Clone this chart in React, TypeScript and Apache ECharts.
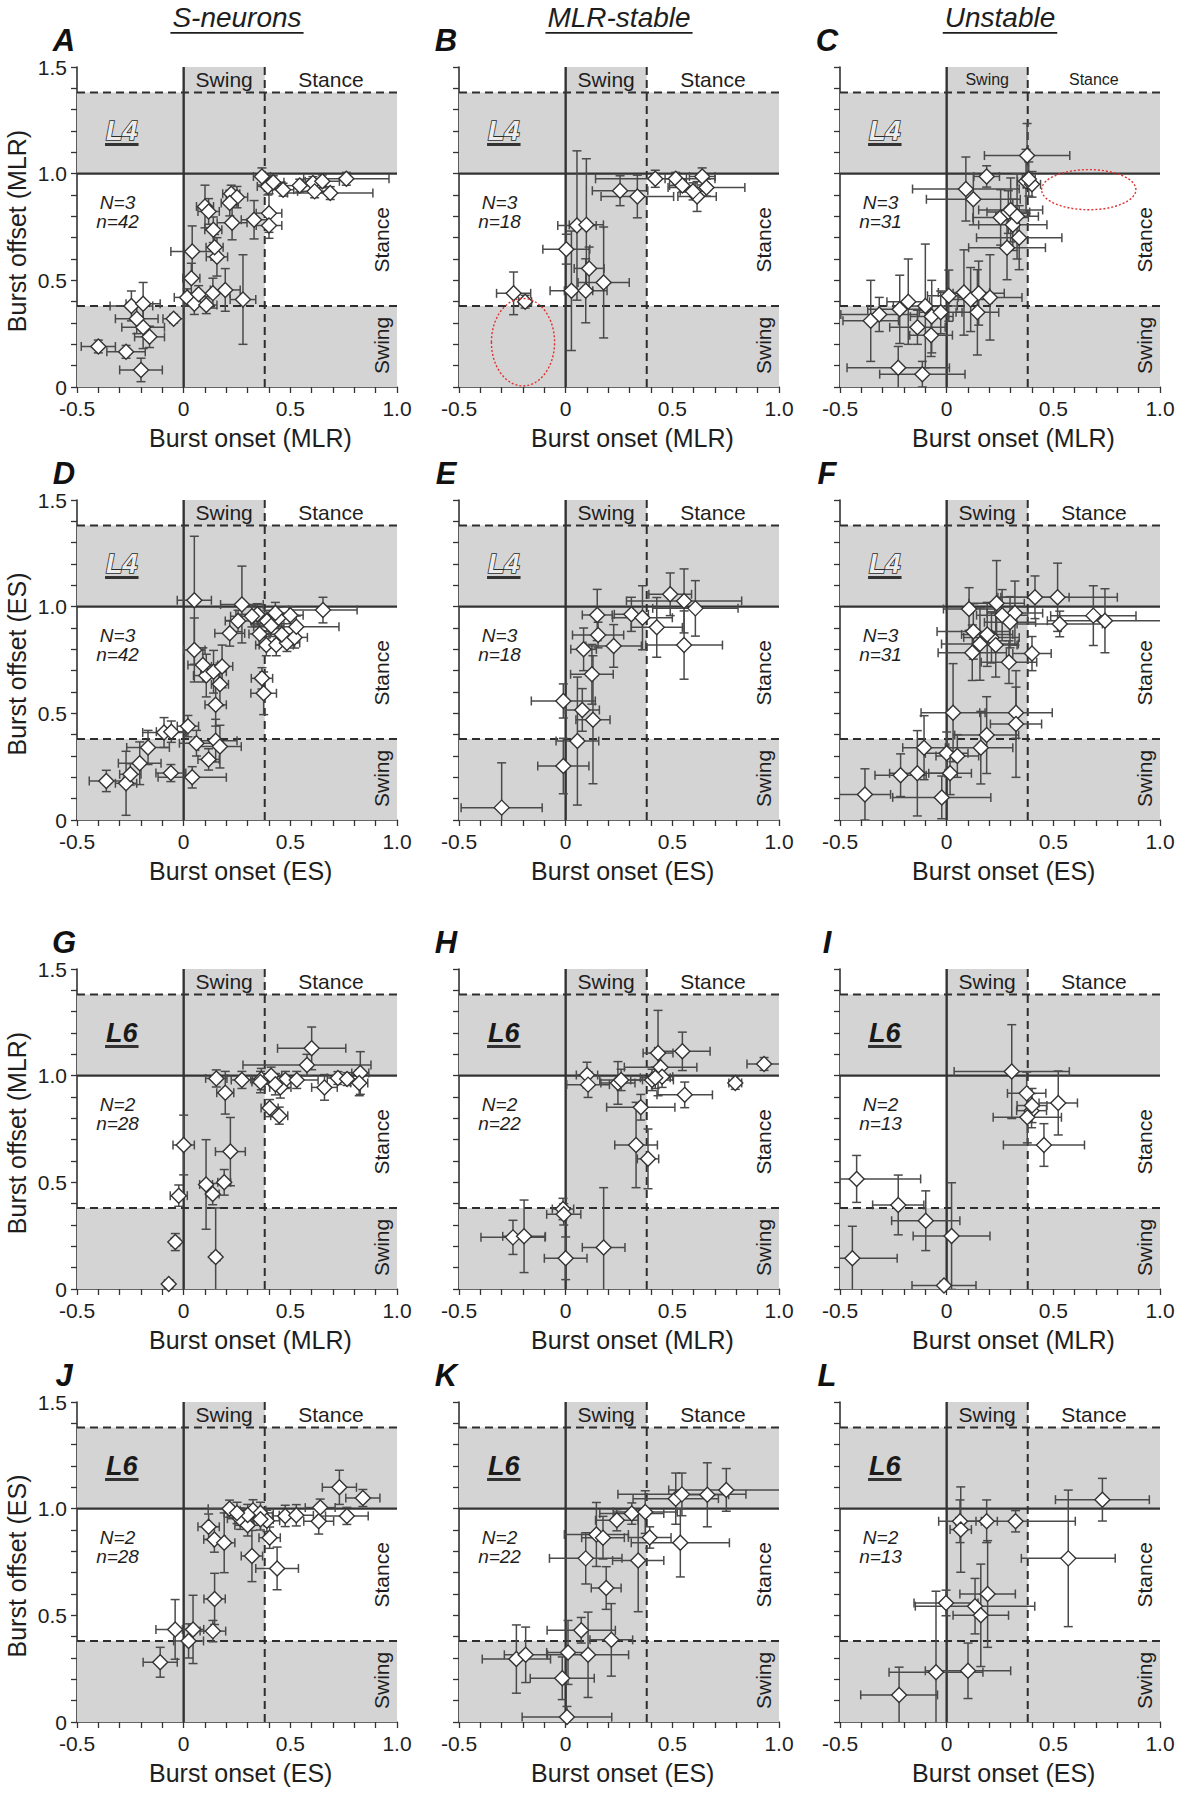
import React, { useEffect, useRef } from 'react';
import * as echarts from 'echarts';

type Pt = [number, number, number, number]; // onset, offset, onset SD, offset SD

const FONT = "'Liberation Sans', Arial, Helvetica, sans-serif";
const INK = '#1e1e1e';
const LINE = '#2e2e2e';
const BAR = '#4a4a4a';
const GRAY = '#d4d4d4';

const X_MIN = -0.5;
const X_MAX = 1.0;
const Y_MIN = 0;
const Y_MAX = 1.5;
const SWING_END = 0.38;
const L_TOP = 1.38;

const columnTitles = ['S-neurons', 'MLR-stable', 'Unstable'];
const panelLetters = ['A', 'B', 'C', 'D', 'E', 'F', 'G', 'H', 'I', 'J', 'K', 'L'];
const segmentLabels = ['L4', 'L4', 'L4', 'L4', 'L4', 'L4', 'L6', 'L6', 'L6', 'L6', 'L6', 'L6'];
const rowReferences = ['MLR', 'ES', 'MLR', 'ES'];
const animalCounts = [3, 3, 3, 3, 3, 3, 2, 2, 2, 2, 2, 2];
const neuronCounts = [42, 18, 31, 42, 18, 31, 28, 22, 13, 28, 22, 13];

const ptsA: Pt[] = [
  [-0.40, 0.19, 0.08, 0.03], [-0.27, 0.165, 0.09, 0.03], [-0.20, 0.08, 0.10, 0.055],
  [-0.16, 0.235, 0.07, 0.05], [-0.19, 0.28, 0.10, 0.10], [-0.22, 0.32, 0.10, 0.07],
  [-0.245, 0.38, 0.10, 0.07], [-0.19, 0.39, 0.08, 0.10], [-0.047, 0.32, 0.05, 0.02],
  [0.016, 0.42, 0.06, 0.04], [0.05, 0.39, 0.05, 0.05], [0.07, 0.435, 0.05, 0.04],
  [0.106, 0.384, 0.05, 0.04], [0.137, 0.44, 0.08, 0.07], [0.195, 0.455, 0.07, 0.10],
  [0.278, 0.41, 0.06, 0.21], [0.036, 0.51, 0.04, 0.07], [0.04, 0.635, 0.10, 0.12],
  [0.156, 0.61, 0.05, 0.09], [0.145, 0.655, 0.04, 0.06], [0.139, 0.737, 0.04, 0.06],
  [0.10, 0.846, 0.04, 0.10], [0.117, 0.823, 0.05, 0.06], [0.227, 0.77, 0.07, 0.08],
  [0.223, 0.906, 0.04, 0.04], [0.25, 0.89, 0.05, 0.05], [0.216, 0.862, 0.04, 0.06],
  [0.33, 0.784, 0.06, 0.09], [0.40, 0.815, 0.06, 0.09], [0.40, 0.757, 0.06, 0.06],
  [0.367, 0.987, 0.04, 0.04], [0.395, 0.94, 0.05, 0.04], [0.466, 0.925, 0.05, 0.03],
  [0.544, 0.944, 0.07, 0.03], [0.606, 0.956, 0.06, 0.03], [0.614, 0.917, 0.08, 0.03],
  [0.65, 0.964, 0.08, 0.03], [0.687, 0.909, 0.20, 0.03], [0.7625, 0.976, 0.20, 0.03],
  [0.42, 0.96, 0.05, 0.03],
];
const ptsB: Pt[] = [
  [-0.244, 0.439, 0.08, 0.10], [-0.19, 0.40, 0.03, 0.03], [0.003, 0.646, 0.11, 0.07],
  [0.053, 0.757, 0.09, 0.35], [0.097, 0.76, 0.08, 0.31], [0.11, 0.556, 0.07, 0.10],
  [0.027, 0.451, 0.10, 0.28], [0.094, 0.451, 0.10, 0.15], [0.178, 0.49, 0.12, 0.26],
  [0.255, 0.92, 0.13, 0.07], [0.336, 0.893, 0.17, 0.10], [0.42, 0.976, 0.28, 0.04],
  [0.516, 0.976, 0.05, 0.03], [0.547, 0.944, 0.06, 0.03], [0.64, 0.987, 0.06, 0.04],
  [0.66, 0.935, 0.18, 0.04], [0.616, 0.893, 0.09, 0.07], [0.597, 0.917, 0.06, 0.04],
];
const ptsC: Pt[] = [
  [-0.356, 0.31, 0.13, 0.19], [-0.316, 0.34, 0.18, 0.08], [-0.22, 0.364, 0.15, 0.16],
  [-0.18, 0.40, 0.10, 0.20], [-0.10, 0.38, 0.15, 0.29], [-0.137, 0.28, 0.13, 0.08],
  [-0.07, 0.33, 0.10, 0.17], [-0.073, 0.243, 0.10, 0.10], [-0.028, 0.35, 0.10, 0.10],
  [0.01, 0.428, 0.10, 0.12], [0.081, 0.443, 0.12, 0.20], [0.1125, 0.41, 0.10, 0.15],
  [0.144, 0.35, 0.10, 0.20], [0.203, 0.42, 0.15, 0.20], [-0.227, 0.09, 0.24, 0.10],
  [-0.114, 0.06, 0.20, 0.06], [0.09, 0.928, 0.25, 0.15], [0.125, 0.88, 0.22, 0.12],
  [0.1875, 0.987, 0.06, 0.05], [0.253, 0.795, 0.13, 0.13], [0.289, 0.82, 0.10, 0.10],
  [0.31, 0.76, 0.16, 0.12], [0.34, 0.70, 0.20, 0.15], [0.283, 0.653, 0.18, 0.15],
  [0.377, 1.085, 0.20, 0.15], [0.372, 0.964, 0.04, 0.15], [0.40, 0.95, 0.04, 0.06],
  [0.385, 0.975, 0.03, 0.08], [0.30, 0.83, 0.15, 0.15], [0.33, 0.80, 0.10, 0.20],
  [0.15, 0.44, 0.12, 0.15],
];
const ptsD: Pt[] = [
  [-0.3625, 0.183, 0.08, 0.05], [-0.27, 0.172, 0.05, 0.15], [-0.25, 0.214, 0.05, 0.05],
  [-0.206, 0.266, 0.10, 0.10], [-0.167, 0.34, 0.10, 0.08], [-0.092, 0.41, 0.10, 0.07],
  [-0.058, 0.414, 0.07, 0.05], [-0.06, 0.22, 0.07, 0.04], [0.04, 0.20, 0.16, 0.05],
  [0.02, 0.44, 0.05, 0.05], [0.06, 0.36, 0.08, 0.06], [0.117, 0.284, 0.05, 0.05],
  [0.15, 0.372, 0.10, 0.10], [0.17, 0.344, 0.10, 0.10], [0.15, 0.54, 0.05, 0.10],
  [0.17, 0.636, 0.04, 0.10], [0.106, 0.677, 0.06, 0.10], [0.09, 0.727, 0.07, 0.08],
  [0.14, 0.695, 0.06, 0.10], [0.18, 0.72, 0.05, 0.10], [0.05, 0.797, 0.05, 0.15],
  [0.05, 1.03, 0.08, 0.30], [0.216, 0.875, 0.07, 0.06], [0.255, 0.933, 0.06, 0.05],
  [0.273, 1.01, 0.10, 0.18], [0.345, 0.964, 0.10, 0.05], [0.356, 0.872, 0.05, 0.05],
  [0.39, 0.933, 0.06, 0.05], [0.3875, 0.82, 0.05, 0.05], [0.434, 0.82, 0.08, 0.05],
  [0.445, 0.947, 0.05, 0.05], [0.484, 0.83, 0.06, 0.04], [0.52, 0.856, 0.06, 0.05],
  [0.528, 0.906, 0.20, 0.05], [0.367, 0.664, 0.05, 0.05], [0.375, 0.594, 0.06, 0.10],
  [0.653, 0.984, 0.16, 0.06], [0.32, 0.955, 0.10, 0.05], [0.41, 0.91, 0.06, 0.05],
  [0.46, 0.87, 0.06, 0.05], [0.43, 0.97, 0.07, 0.05], [0.50, 0.96, 0.06, 0.04],
];
const ptsE: Pt[] = [
  [-0.30, 0.058, 0.19, 0.21], [-0.011, 0.253, 0.12, 0.13], [0.055, 0.37, 0.10, 0.30],
  [-0.011, 0.558, 0.15, 0.08], [0.078, 0.516, 0.08, 0.10], [0.128, 0.47, 0.08, 0.30],
  [0.123, 0.683, 0.10, 0.14], [0.084, 0.80, 0.06, 0.10], [0.152, 0.867, 0.12, 0.06],
  [0.225, 0.816, 0.13, 0.10], [0.148, 0.961, 0.07, 0.12], [0.308, 0.964, 0.08, 0.08],
  [0.36, 0.948, 0.14, 0.15], [0.427, 0.903, 0.12, 0.14], [0.49, 1.058, 0.10, 0.10],
  [0.555, 1.027, 0.27, 0.15], [0.608, 0.992, 0.20, 0.13], [0.555, 0.82, 0.18, 0.16],
];
const ptsF: Pt[] = [
  [-0.383, 0.12, 0.12, 0.12], [-0.216, 0.21, 0.12, 0.10], [-0.1375, 0.219, 0.13, 0.20],
  [-0.106, 0.339, 0.10, 0.15], [0.0, 0.3125, 0.10, 0.10], [0.016, 0.219, 0.10, 0.10],
  [-0.023, 0.106, 0.23, 0.10], [0.03, 0.503, 0.15, 0.23], [0.16, 0.339, 0.15, 0.17],
  [0.1875, 0.398, 0.15, 0.18], [0.325, 0.503, 0.17, 0.12], [0.325, 0.45, 0.12, 0.25],
  [0.105, 0.989, 0.12, 0.10], [0.125, 0.884, 0.17, 0.13], [0.156, 0.825, 0.18, 0.17],
  [0.12, 0.784, 0.16, 0.13], [0.21, 0.856, 0.13, 0.12], [0.234, 1.016, 0.13, 0.20],
  [0.32, 0.97, 0.13, 0.15], [0.297, 0.927, 0.12, 0.12], [0.292, 0.74, 0.13, 0.10],
  [0.40, 0.78, 0.09, 0.08], [0.414, 1.044, 0.16, 0.10], [0.52, 1.044, 0.28, 0.16],
  [0.53, 0.919, 0.20, 0.06], [0.6875, 0.958, 0.20, 0.14], [0.742, 0.934, 0.27, 0.15],
  [0.19, 0.87, 0.12, 0.15], [0.26, 0.96, 0.12, 0.12], [0.23, 0.82, 0.10, 0.15],
  [0.05, 0.30, 0.10, 0.10],
];
const ptsG: Pt[] = [
  [-0.07, 0.023, 0.02, 0.02], [-0.039, 0.22, 0.02, 0.04], [-0.023, 0.4375, 0.04, 0.05],
  [0.0, 0.675, 0.05, 0.14], [0.105, 0.49, 0.03, 0.21], [0.136, 0.445, 0.03, 0.05],
  [0.15, 0.15, 0.02, 0.23], [0.19, 0.50, 0.03, 0.06], [0.219, 0.644, 0.07, 0.16],
  [0.195, 0.92, 0.04, 0.10], [0.153, 0.987, 0.05, 0.04], [0.273, 0.98, 0.05, 0.04],
  [0.364, 0.984, 0.05, 0.05], [0.41, 1.0, 0.05, 0.04], [0.477, 0.98, 0.05, 0.04],
  [0.453, 0.945, 0.05, 0.05], [0.403, 0.848, 0.04, 0.04], [0.448, 0.8125, 0.04, 0.04],
  [0.60, 1.128, 0.16, 0.10], [0.578, 1.05, 0.30, 0.05], [0.66, 0.945, 0.06, 0.06],
  [0.723, 0.989, 0.05, 0.03], [0.766, 0.984, 0.05, 0.03], [0.828, 1.0125, 0.04, 0.10],
  [0.823, 0.966, 0.04, 0.06], [0.36, 0.97, 0.04, 0.05], [0.43, 0.96, 0.05, 0.05],
  [0.53, 0.98, 0.10, 0.04],
];
const ptsH: Pt[] = [
  [-0.247, 0.242, 0.15, 0.08], [-0.195, 0.247, 0.10, 0.17], [-0.0125, 0.375, 0.05, 0.05],
  [-0.009, 0.35, 0.08, 0.05], [0.0, 0.144, 0.10, 0.10], [0.178, 0.195, 0.10, 0.28],
  [0.10, 1.003, 0.05, 0.06], [0.105, 0.958, 0.10, 0.06], [0.245, 0.966, 0.08, 0.10],
  [0.352, 0.852, 0.16, 0.06], [0.33, 0.675, 0.10, 0.20], [0.386, 0.61, 0.05, 0.14],
  [0.433, 1.106, 0.07, 0.20], [0.445, 1.04, 0.17, 0.06], [0.405, 0.98, 0.10, 0.05],
  [0.452, 0.995, 0.05, 0.05], [0.547, 1.114, 0.13, 0.09], [0.558, 0.91, 0.13, 0.06],
  [0.795, 0.966, 0.03, 0.03], [0.93, 1.055, 0.08, 0.03], [0.26, 0.98, 0.10, 0.05],
  [0.42, 0.99, 0.07, 0.05],
];
const ptsI: Pt[] = [
  [-0.422, 0.516, 0.30, 0.11], [-0.227, 0.394, 0.12, 0.14], [-0.098, 0.32, 0.16, 0.14],
  [0.023, 0.248, 0.18, 0.25], [-0.442, 0.144, 0.21, 0.15], [-0.0125, 0.016, 0.15, 0.02],
  [0.305, 1.019, 0.27, 0.22], [0.375, 0.917, 0.09, 0.10], [0.398, 0.836, 0.07, 0.08],
  [0.378, 0.805, 0.16, 0.12], [0.523, 0.872, 0.09, 0.15], [0.456, 0.675, 0.19, 0.10],
  [0.40, 0.86, 0.07, 0.08],
];
const ptsJ: Pt[] = [
  [-0.11, 0.28, 0.08, 0.07], [-0.04, 0.434, 0.09, 0.14], [0.023, 0.38, 0.07, 0.08],
  [0.044, 0.434, 0.05, 0.16], [0.137, 0.426, 0.06, 0.05], [0.145, 0.577, 0.05, 0.12],
  [0.117, 0.915, 0.05, 0.06], [0.144, 0.856, 0.05, 0.06], [0.19, 0.84, 0.05, 0.14],
  [0.215, 1.0, 0.10, 0.04], [0.265, 0.953, 0.06, 0.05], [0.30, 0.922, 0.06, 0.05],
  [0.325, 0.992, 0.06, 0.05], [0.36, 0.98, 0.06, 0.05], [0.39, 0.943, 0.06, 0.05],
  [0.403, 0.864, 0.05, 0.05], [0.32, 0.778, 0.05, 0.12], [0.438, 0.72, 0.10, 0.10],
  [0.476, 0.966, 0.06, 0.05], [0.528, 0.969, 0.08, 0.05], [0.633, 0.941, 0.07, 0.06],
  [0.64, 1.005, 0.07, 0.04], [0.765, 0.966, 0.10, 0.04], [0.73, 1.10, 0.08, 0.08],
  [0.84, 1.05, 0.08, 0.04], [0.30, 0.97, 0.06, 0.05], [0.36, 0.95, 0.06, 0.05],
  [0.25, 0.98, 0.06, 0.05],
];
const ptsK: Pt[] = [
  [-0.231, 0.295, 0.16, 0.16], [-0.1875, 0.315, 0.10, 0.13], [-0.016, 0.205, 0.15, 0.10],
  [0.011, 0.326, 0.10, 0.15], [0.006, 0.023, 0.21, 0.05], [0.073, 0.43, 0.16, 0.06],
  [0.105, 0.315, 0.19, 0.20], [0.214, 0.385, 0.10, 0.17], [0.094, 0.767, 0.17, 0.12],
  [0.144, 0.879, 0.15, 0.15], [0.175, 0.864, 0.10, 0.10], [0.19, 0.628, 0.07, 0.10],
  [0.24, 0.946, 0.10, 0.05], [0.31, 0.977, 0.15, 0.05], [0.373, 0.984, 0.15, 0.10],
  [0.34, 0.757, 0.12, 0.24], [0.394, 0.865, 0.10, 0.05], [0.516, 1.047, 0.20, 0.12],
  [0.545, 1.067, 0.30, 0.10], [0.664, 1.065, 0.10, 0.15], [0.753, 1.088, 0.27, 0.10],
  [0.5375, 0.84, 0.23, 0.16],
];
const ptsL: Pt[] = [
  [-0.223, 0.127, 0.18, 0.13], [-0.05, 0.233, 0.22, 0.38], [0.10, 0.24, 0.20, 0.13],
  [-0.003, 0.558, 0.15, 0.06], [0.133, 0.543, 0.28, 0.13], [0.16, 0.50, 0.13, 0.24],
  [0.192, 0.60, 0.13, 0.25], [0.0625, 0.941, 0.10, 0.10], [0.066, 0.902, 0.05, 0.20],
  [0.1875, 0.941, 0.05, 0.10], [0.323, 0.941, 0.28, 0.05], [0.57, 0.767, 0.22, 0.32],
  [0.73, 1.042, 0.22, 0.10],
];

// highlighted regions (center x, center y, radius x, radius y) in data units
const ellipsesB = [[-0.2, 0.21, 0.148, 0.205]];
const ellipsesC = [[0.666, 0.925, 0.221, 0.094]];

const panelPoints: Pt[][] = [ptsA, ptsB, ptsC, ptsD, ptsE, ptsF, ptsG, ptsH, ptsI, ptsJ, ptsK, ptsL];
const panelEllipses: number[][][] = [[], ellipsesB, ellipsesC, [], [], [], [], [], [], [], [], []];

const LEFTS = [77, 459, 840];
const TOPS = [67, 500, 969, 1402];
const SIZE = 320;

const tickFmt = (v: number) => (Math.abs(v) < 1e-9 ? '0' : v.toFixed(1));

function measure(text: string, font: string): number {
  const c = document.createElement('canvas').getContext('2d');
  if (!c) return text.length * 12;
  c.font = font;
  return c.measureText(text).width;
}

export default function App() {
  const ref = useRef<HTMLDivElement>(null);

  useEffect(() => {
    if (!ref.current) return;
    const chart = echarts.init(ref.current, undefined, { renderer: 'svg' });

    const grid: any[] = [];
    const xAxis: any[] = [];
    const yAxis: any[] = [];
    const series: any[] = [];
    const graphic: any[] = [];

    const titleFont = `italic 28px ${FONT}`;
    columnTitles.forEach((t, c) => {
      const cx = LEFTS[c] + SIZE / 2;
      const w = measure(t, titleFont);
      graphic.push({
        type: 'text', x: cx, y: 17,
        style: { text: t, font: titleFont, fill: INK, align: 'center', verticalAlign: 'middle' },
      });
      graphic.push({
        type: 'rect', shape: { x: cx - w / 2 - 2, y: 32, width: w + 4, height: 1.8 },
        style: { fill: INK },
      });
    });

    for (let i = 0; i < 12; i++) {
      const row = Math.floor(i / 3);
      const col = i % 3;
      const left = LEFTS[col];
      const top = TOPS[row];
      const ref_ = rowReferences[row];
      grid.push({ left, top, width: SIZE, height: SIZE });

      const axisCommon = {
        gridIndex: i,
        type: 'value',
        interval: 0.5,
        axisLine: { show: true, onZero: false, lineStyle: { color: '#333', width: 1.6 } },
        axisTick: { show: true, length: 6, lineStyle: { color: '#333', width: 1.3 } },
        minorTick: { show: true, splitNumber: 5, length: 6, lineStyle: { color: '#333', width: 1.3 } },
        splitLine: { show: false },
        minorSplitLine: { show: false },
      };
      xAxis.push({
        ...axisCommon,
        min: X_MIN, max: X_MAX, position: 'bottom',
        axisLabel: { formatter: tickFmt, fontSize: 21, fontFamily: FONT, color: INK, margin: 11 },
      });
      yAxis.push({
        ...axisCommon,
        min: Y_MIN, max: Y_MAX, position: 'left',
        axisLabel: { show: col === 0, formatter: tickFmt, fontSize: 21, fontFamily: FONT, color: INK, margin: 10 },
      });

      // panel letter
      graphic.push({
        type: 'text', x: left - 13, y: top - 27,
        style: { text: panelLetters[i], font: `italic bold 31px ${FONT}`, fill: '#111', align: 'center', verticalAlign: 'middle' },
      });
      // axis names
      graphic.push({
        type: 'text', x: left + 72, y: top + SIZE + 51,
        style: { text: `Burst onset (${ref_})`, font: `25px ${FONT}`, fill: INK, align: 'left', verticalAlign: 'middle' },
      });
      if (col === 0) {
        graphic.push({
          type: 'text', x: 17, y: top + SIZE / 2 + 4, rotation: Math.PI / 2,
          style: { text: `Burst offset (${ref_})`, font: `25px ${FONT}`, fill: INK, align: 'center', verticalAlign: 'middle' },
        });
      }

      const seg = segmentLabels[i];
      const headerSize = i === 2 ? 16 : 21;
      const N = animalCounts[i];
      const n = neuronCounts[i];

      // background: shaded phases, reference lines, labels
      series.push({
        type: 'custom',
        xAxisIndex: i, yAxisIndex: i,
        z: 1, silent: true,
        data: [[0, 0]],
        encode: { x: 0, y: 1 },
        renderItem: (_p: any, api: any) => {
          const P = (x: number, y: number) => api.coord([x, y]);
          const [xl, yb] = P(X_MIN, Y_MIN);
          const [xr, yt] = P(X_MAX, Y_MAX);
          const [xz] = P(0, 0);
          const [xs] = P(SWING_END, 0);
          const y1 = P(0, 1)[1];
          const yL = P(0, L_TOP)[1];
          const yS = P(0, SWING_END)[1];
          const dash = { stroke: LINE, lineWidth: 2, lineDash: [8, 5] };
          const solid = { stroke: '#333', lineWidth: 2.4 };
          const txt = (x: number, y: number, text: string, font: string, rot = 0, extra: any = {}) => {
            const [px, py] = P(x, y);
            return {
              type: 'text', x: px, y: py, rotation: rot,
              style: { text, font, fill: INK, align: 'center', verticalAlign: 'middle', ...extra },
            };
          };
          const segFont = `italic bold 27px ${FONT}`;
          const segW = measure(seg, segFont);
          const [sx, sy] = P(-0.29, 1.2);
          const segStyle = seg === 'L4'
            ? { fill: '#ececec', stroke: '#2a2a2a', lineWidth: 1.6 }
            : { fill: '#1a1a1a' };
          const children: any[] = [
            { type: 'rect', shape: { x: xl, y: yL, width: xr - xl, height: y1 - yL }, style: { fill: GRAY } },
            { type: 'rect', shape: { x: xl, y: yS, width: xr - xl, height: yb - yS }, style: { fill: GRAY } },
            { type: 'rect', shape: { x: xz, y: yt, width: xs - xz, height: yb - yt }, style: { fill: GRAY } },
            { type: 'line', shape: { x1: xl, y1: yL, x2: xr, y2: yL }, style: dash },
            { type: 'line', shape: { x1: xl, y1: yS, x2: xr, y2: yS }, style: dash },
            { type: 'line', shape: { x1: xs, y1: yt, x2: xs, y2: yb }, style: dash },
            { type: 'line', shape: { x1: xz, y1: yt, x2: xz, y2: yb }, style: solid },
            { type: 'line', shape: { x1: xl, y1: y1, x2: xr, y2: y1 }, style: solid },
            txt(0.19, 1.442, 'Swing', `${headerSize}px ${FONT}`),
            txt(0.69, 1.442, 'Stance', `${headerSize}px ${FONT}`),
            txt(0.925, 0.69, 'Stance', `21px ${FONT}`, Math.PI / 2),
            txt(0.925, 0.195, 'Swing', `21px ${FONT}`, Math.PI / 2),
            txt(-0.31, 0.867, `N=${N}`, `italic 19px ${FONT}`),
            txt(-0.31, 0.778, `n=${n}`, `italic 19px ${FONT}`),
            {
              type: 'text', x: sx, y: sy,
              style: { text: seg, font: segFont, align: 'center', verticalAlign: 'middle', ...segStyle },
            },
            { type: 'rect', shape: { x: sx - segW / 2 - 1, y: sy + 12, width: segW + 2, height: 3 }, style: { fill: '#333' } },
          ];
          return { type: 'group', children };
        },
      });

      // error bars
      const pts = panelPoints[i];
      series.push({
        type: 'custom',
        xAxisIndex: i, yAxisIndex: i,
        z: 2, silent: true, clip: true,
        data: pts,
        encode: { x: 0, y: 1 },
        renderItem: (_p: any, api: any) => {
          const x = api.value(0);
          const y = api.value(1);
          const ex = api.value(2);
          const ey = api.value(3);
          const l = api.coord([x - ex, y]);
          const r = api.coord([x + ex, y]);
          const t = api.coord([x, y + ey]);
          const b = api.coord([x, y - ey]);
          const cap = 4.5;
          const st = { stroke: BAR, lineWidth: 1.5 };
          return {
            type: 'group',
            children: [
              { type: 'line', shape: { x1: l[0], y1: l[1], x2: r[0], y2: r[1] }, style: st },
              { type: 'line', shape: { x1: l[0], y1: l[1] - cap, x2: l[0], y2: l[1] + cap }, style: st },
              { type: 'line', shape: { x1: r[0], y1: r[1] - cap, x2: r[0], y2: r[1] + cap }, style: st },
              { type: 'line', shape: { x1: t[0], y1: t[1], x2: b[0], y2: b[1] }, style: st },
              { type: 'line', shape: { x1: t[0] - cap, y1: t[1], x2: t[0] + cap, y2: t[1] }, style: st },
              { type: 'line', shape: { x1: b[0] - cap, y1: b[1], x2: b[0] + cap, y2: b[1] }, style: st },
            ],
          };
        },
      });

      // mean points
      series.push({
        type: 'scatter',
        xAxisIndex: i, yAxisIndex: i,
        z: 3, silent: true,
        symbol: 'diamond', symbolSize: 15,
        itemStyle: { color: '#ffffff', borderColor: '#333', borderWidth: 1.4, opacity: 1 },
        data: pts.map((p) => [p[0], p[1]]),
      });

      const ell = panelEllipses[i];
      if (ell.length) {
        series.push({
          type: 'custom',
          xAxisIndex: i, yAxisIndex: i,
          z: 4, silent: true,
          data: ell,
          encode: { x: 0, y: 1 },
          renderItem: (_p: any, api: any) => {
            const c = api.coord([api.value(0), api.value(1)]);
            const s = api.size([api.value(2), api.value(3)]);
            return {
              type: 'ellipse',
              shape: { cx: c[0], cy: c[1], rx: s[0], ry: s[1] },
              style: { fill: 'none', stroke: '#e03030', lineWidth: 1.4, lineDash: [2, 2] },
            };
          },
        });
      }
    }

    chart.setOption({
      animation: false,
      backgroundColor: '#ffffff',
      grid, xAxis, yAxis, series, graphic,
    });

    return () => chart.dispose();
  }, []);

  return (
    <div
      ref={ref}
      style={{ position: 'absolute', left: 0, top: 0, width: 1180, height: 1800, background: '#fff' }}
    />
  );
}
